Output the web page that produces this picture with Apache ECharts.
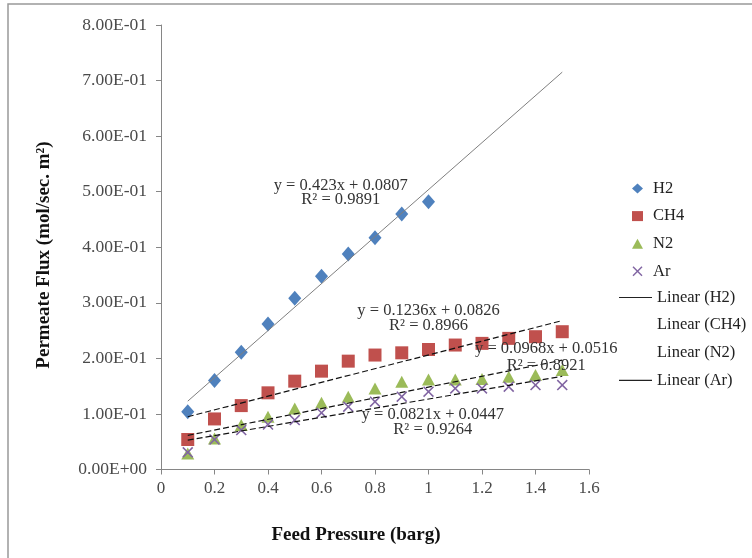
<!DOCTYPE html>
<html>
<head>
<meta charset="utf-8">
<script src="https://cdn.jsdelivr.net/npm/echarts@6/dist/echarts.min.js"></script>
<style>html,body{margin:0;padding:0;background:#fff;}#c{width:752px;height:558px;}</style>
</head>
<body>
<div id="c"></div>
<script>
var pressure = [0.1,0.2,0.3,0.4,0.5,0.6,0.7,0.8,0.9,1.0,1.1,1.2,1.3,1.4,1.5];
var h2Pressure = [0.1,0.2,0.3,0.4,0.5,0.6,0.7,0.8,0.9,1.0];
var h2Flux = [0.104,0.160,0.211,0.262,0.308,0.348,0.388,0.417,0.460,0.482];
var ch4Flux = [0.054,0.091,0.115,0.138,0.159,0.177,0.195,0.206,0.210,0.216,0.224,0.227,0.236,0.239,0.248];
var n2Flux = [0.029,0.056,0.080,0.095,0.110,0.120,0.131,0.146,0.158,0.162,0.162,0.163,0.167,0.170,0.179];
var arFlux = [0.031,0.054,0.071,0.081,0.089,0.102,0.113,0.122,0.131,0.140,0.146,0.146,0.149,0.152,0.152];
var gasNames = ['H2','CH4','N2','Ar'];
var trendNames = ['Linear (H2)','Linear (CH4)','Linear (N2)','Linear (Ar)'];
var slopes = [0.423,0.1236,0.0968,0.0821];
var intercepts = [0.0807,0.0826,0.0516,0.0447];
var r2 = ['0.9891','0.8966','0.8921','0.9264'];
var trendRange = [0.1,1.5];

var colors = ['#4F81BD','#C0504D','#9BBB59','#8064A2'];
var FONT = '"Liberation Serif","Times New Roman",serif';
var crossPath = 'path://M0,1 L1,0 L5,4 L9,0 L10,1 L6,5 L10,9 L9,10 L5,6 L1,10 L0,9 L4,5 Z';

function pairs(xs, ys){ return xs.map(function(x,i){ return [x, ys[i]]; }); }
function trend(i){ return trendRange.map(function(x){ return [x, slopes[i]*x + intercepts[i]]; }); }
function fmtY(v){
  if (v === 0) return '0.00E+00';
  var s = v.toExponential(2).toUpperCase();
  var m = s.split('E'); var e = parseInt(m[1],10);
  var sign = e < 0 ? '-' : '+'; var a = Math.abs(e);
  return m[0] + 'E' + sign + (a < 10 ? '0' + a : a);
}

var chart = echarts.init(document.getElementById('c'));
var series = [
  {name:gasNames[0], type:'scatter', data:pairs(h2Pressure,h2Flux), symbol:'diamond', symbolSize:[13,15], itemStyle:{color:colors[0], opacity:1}, z:5},
  {name:gasNames[1], type:'scatter', data:pairs(pressure,ch4Flux), symbol:'rect', symbolSize:13, itemStyle:{color:colors[1], opacity:1}, z:5},
  {name:gasNames[2], type:'scatter', data:pairs(pressure,n2Flux), symbol:'triangle', symbolSize:[13,12], itemStyle:{color:colors[2], opacity:1}, z:5},
  {name:gasNames[3], type:'scatter', data:pairs(pressure,arFlux), symbol:crossPath, symbolSize:11, itemStyle:{color:colors[3], opacity:1}, z:6},
  {name:trendNames[0], type:'line', data:trend(0), symbol:'none', itemStyle:{color:'#7f7f7f'}, lineStyle:{color:'#7f7f7f', width:1}, z:7, silent:true},
  {name:trendNames[1], type:'line', data:trend(1), symbol:'none', itemStyle:{color:'#111'}, lineStyle:{color:'#111', width:1.2, type:[6,3]}, z:7, silent:true},
  {name:trendNames[2], type:'line', data:trend(2), symbol:'none', itemStyle:{color:'#111'}, lineStyle:{color:'#111', width:1.2, type:[6,3]}, z:7, silent:true},
  {name:trendNames[3], type:'line', data:trend(3), symbol:'none', itemStyle:{color:'#111'}, lineStyle:{color:'#111', width:1.2, type:[6,3]}, z:7, silent:true}
];

var legendText = {fontFamily:FONT, fontSize:16.5, color:'#222'};
var rowGap = 10.6;

chart.setOption({
  animation:false,
  backgroundColor:'#fff',
  grid:{left:161, right:163, top:25, bottom:88.5, containLabel:false},
  xAxis:{type:'value', min:0, max:1.6, interval:0.2,
    axisLine:{lineStyle:{color:'#868686'}}, axisTick:{show:true, length:5, lineStyle:{color:'#868686'}},
    splitLine:{show:false},
    axisLabel:{fontFamily:FONT, fontSize:17, color:'#4a4a4a', margin:11,
      formatter:function(v){ return String(Math.round(v*10)/10); }}},
  yAxis:{type:'value', min:0, max:0.8, interval:0.1,
    axisLine:{show:true, lineStyle:{color:'#868686'}}, axisTick:{show:true, length:5, lineStyle:{color:'#868686'}},
    splitLine:{show:false},
    axisLabel:{fontFamily:FONT, fontSize:17.5, color:'#4a4a4a', margin:14, formatter:function(v){ return fmtY(v); }}},
  legend:[
    {orient:'vertical', left:627, top:175, itemWidth:11, itemHeight:10, itemGap:rowGap,
      textStyle:Object.assign({padding:[0,0,0,5]}, legendText),
      data:[
        {name:gasNames[0], icon:'diamond'},
        {name:gasNames[1], icon:'rect'},
        {name:gasNames[2], icon:'triangle'},
        {name:gasNames[3], icon:crossPath}
      ]},
    {orient:'vertical', left:613, top:284, itemWidth:33, itemHeight:10, itemGap:rowGap,
      textStyle:legendText,
      data:[
        {name:trendNames[0], itemStyle:{opacity:0}, lineStyle:{color:'#222', width:1.2, type:'solid', opacity:1}},
        {name:trendNames[1], itemStyle:{opacity:0}, lineStyle:{opacity:0}},
        {name:trendNames[2], itemStyle:{opacity:0}, lineStyle:{opacity:0}},
        {name:trendNames[3], itemStyle:{opacity:0}, lineStyle:{color:'#222', width:1.2, type:'solid', opacity:1}}
      ]}
  ],
  series:series
});

// annotations placed in data coordinates
var annot = [
  {i:0, x:0.672, y:0.511, y2:0.486},
  {i:1, x:1.0, y:0.286, y2:0.258},
  {i:2, x:1.44, y:0.217, y2:0.186},
  {i:3, x:1.016, y:0.099, y2:0.071}
];
var graphics = [
  {type:'rect', shape:{x:8, y:4, width:760, height:570}, style:{fill:null, stroke:'#999', lineWidth:1.5}, silent:true},
  {type:'text', x:356, y:535, style:{text:'Feed Pressure (barg)', font:'bold 19px ' + FONT, fill:'#111', textAlign:'center', textVerticalAlign:'middle'}},
  {type:'text', x:44, y:255, rotation:Math.PI/2, style:{text:'Permeate Flux (mol/sec. m²)', font:'bold 19px ' + FONT, fill:'#111', textAlign:'center', textVerticalAlign:'middle'}}
];
annot.forEach(function(a){
  var p1 = chart.convertToPixel({gridIndex:0}, [a.x, a.y]);
  var p2 = chart.convertToPixel({gridIndex:0}, [a.x, a.y2]);
  var eq = 'y = ' + slopes[a.i] + 'x + ' + intercepts[a.i];
  graphics.push({type:'text', x:p1[0], y:p1[1], z:10, style:{text:eq, font:'16.5px ' + FONT, fill:'#333', textAlign:'center', textVerticalAlign:'middle'}});
  graphics.push({type:'text', x:p2[0], y:p2[1], z:10, style:{text:'R² = ' + r2[a.i], font:'16.5px ' + FONT, fill:'#333', textAlign:'center', textVerticalAlign:'middle'}});
});
chart.setOption({graphic:graphics});
</script>
</body>
</html>
